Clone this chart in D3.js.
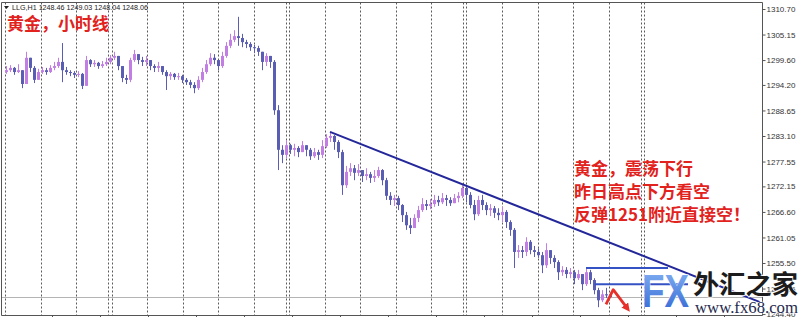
<!DOCTYPE html>
<html><head><meta charset="utf-8">
<script src="https://cdn.jsdelivr.net/npm/d3@7"></script>
<style>html,body{margin:0;padding:0;background:#fff;overflow:hidden}svg{display:block}</style>
</head><body>
<svg id="c" width="800" height="317"></svg>
<script>
// ---------- data ----------
const symbol = "LLG,H1";
const firstOpen = 1297.0;
const closes = [1297.4,1297.9,1297.0,1297.4,1294.4,1300.1,1297.9,1295.3,1297.0,1297.4,
1297.0,1297.9,1298.3,1299.2,1297.4,1297.0,1296.8,1296.4,1296.6,1294.0,
1299.6,1298.7,1299.0,1298.3,1298.7,1299.2,1300.1,1300.5,1298.3,1295.7,
1295.3,1299.6,1300.9,1299.6,1299.2,1299.6,1298.3,1297.9,1298.3,1297.0,
1296.1,1296.6,1295.9,1296.1,1295.3,1294.8,1294.2,1293.5,1295.3,1297.0,
1298.7,1300.1,1299.6,1298.3,1300.5,1302.7,1304.0,1304.8,1304.4,1303.5,
1303.1,1302.4,1302.2,1301.4,1299.2,1300.5,1299.2,1288.7,1280.1,1279.0,
1281.1,1280.1,1280.5,1279.6,1281.1,1280.1,1278.7,1279.6,1279.0,1280.9,
1282.7,1283.1,1281.8,1279.6,1272.4,1275.3,1276.1,1275.1,1275.7,1274.4,
1274.8,1274.0,1274.4,1275.7,1273.5,1270.1,1269.2,1269.6,1268.1,1265.9,
1263.7,1263.1,1265.3,1267.0,1268.3,1267.9,1268.3,1269.2,1268.7,1269.6,
1269.2,1268.5,1269.6,1270.1,1271.8,1270.3,1268.1,1266.1,1269.2,1268.1,
1267.0,1267.4,1266.4,1265.9,1266.6,1264.4,1262.7,1257.9,1258.3,1257.9,
1260.1,1258.3,1257.9,1257.2,1255.0,1258.3,1256.6,1255.7,1253.5,1254.0,
1253.1,1253.5,1252.2,1253.1,1250.9,1253.5,1251.8,1249.6,1247.4,1248.7,
1248.46,1248.06];
const highs = [1298.3,1298.5,1298.1,1298.7,1297.4,1301.4,1300.1,1298.3,1297.7,1298.1,
1297.9,1298.5,1299.2,1300.1,1303.3,1298.1,1297.4,1297.2,1297.2,1296.8,
1300.5,1299.8,1299.6,1299.2,1299.4,1300.1,1300.7,1301.4,1300.5,1298.3,
1296.4,1300.1,1301.8,1300.9,1300.3,1300.5,1299.6,1298.7,1299.2,1298.3,
1297.4,1297.0,1296.8,1296.8,1296.4,1295.7,1295.3,1294.8,1296.1,1297.9,
1299.6,1301.1,1300.9,1299.6,1301.4,1303.5,1305.3,1306.1,1309.0,1305.3,
1304.0,1303.5,1302.9,1302.7,1301.4,1301.1,1300.3,1299.6,1289.8,1281.1,
1282.2,1281.4,1281.4,1280.9,1282.0,1281.1,1280.5,1280.5,1280.1,1282.2,
1283.5,1284.0,1283.3,1282.2,1280.1,1276.6,1277.2,1276.8,1277.0,1275.7,
1276.1,1275.3,1275.7,1276.4,1275.9,1274.0,1270.9,1270.3,1270.1,1268.3,
1266.6,1265.3,1266.1,1267.9,1269.6,1269.2,1269.4,1270.3,1270.1,1270.7,
1270.3,1269.8,1270.5,1270.9,1272.4,1272.0,1270.9,1269.2,1270.1,1270.3,
1268.7,1268.3,1267.9,1267.4,1267.7,1267.0,1264.8,1263.1,1259.4,1259.2,
1261.1,1260.5,1259.2,1258.7,1257.9,1259.8,1258.3,1257.2,1256.1,1254.8,
1254.6,1254.4,1254.0,1254.0,1253.1,1254.4,1254.0,1252.2,1250.1,1249.6,
1250.1,1249.03];
const lows = [1296.6,1297.0,1296.4,1296.8,1293.5,1294.4,1297.0,1294.6,1295.3,1296.6,
1296.4,1296.8,1297.4,1297.9,1294.8,1296.4,1296.1,1295.7,1295.9,1293.3,
1294.0,1298.1,1298.1,1297.7,1297.9,1298.3,1298.7,1299.6,1297.4,1294.8,
1294.4,1294.8,1299.2,1298.7,1298.3,1298.3,1297.4,1297.0,1297.0,1296.4,
1293.1,1295.3,1295.3,1295.3,1294.6,1294.2,1293.5,1292.4,1293.1,1294.8,
1296.6,1298.3,1298.7,1297.4,1297.9,1300.1,1302.2,1303.5,1302.7,1302.4,
1302.2,1301.6,1301.1,1300.5,1297.4,1298.3,1297.9,1287.7,1275.7,1277.2,
1278.3,1279.2,1278.7,1278.5,1279.6,1278.7,1277.9,1278.3,1277.9,1278.3,
1280.5,1281.8,1280.1,1278.3,1270.3,1271.8,1274.4,1273.5,1274.4,1273.1,
1273.5,1272.9,1273.1,1274.0,1272.4,1269.2,1268.1,1267.9,1267.0,1264.4,
1262.7,1261.8,1263.5,1264.4,1266.6,1267.0,1267.2,1267.7,1267.9,1268.3,
1267.9,1267.9,1268.5,1268.7,1269.6,1268.7,1267.4,1264.8,1265.7,1267.0,
1265.9,1265.7,1265.3,1264.8,1264.4,1263.1,1261.4,1254.4,1256.6,1256.6,
1257.0,1257.4,1256.8,1256.6,1253.3,1254.4,1255.3,1254.4,1251.8,1252.7,
1252.2,1252.2,1250.9,1251.8,1249.6,1250.5,1250.9,1248.7,1245.9,1247.0,
1247.9,1248.04];
const priceTicks = ["1310.70","1305.15","1299.60","1294.20","1288.65","1283.10","1277.55","1272.15","1266.60","1261.05","1255.50","1249.95","1244.40"];
const trendLine = [{i:81, p:1284.0}, {i:188.5, p:1247.0}];
const levelLines = [{from:145, to:165.5, p:1254.4}, {from:147.2, to:170.5, p:1250.9}];
const arrowPts = [{i:150, p:1246.5}, {i:151.8, p:1249.7}, {i:155.2, p:1245.8}];
const separators = [25.5, 70, 114.25, 158.75];
const titleText = "黄金，小时线";
const noteLines = ["黄金，震荡下行", "昨日高点下方看空", "反弹1251附近直接空！"];

// ---------- chart ----------
const svg = d3.select("#c");
svg.append("rect").attr("width",800).attr("height",317).attr("fill","#fff");
const P = {l:1.5, r:762.5, t:2.5, b:315.5};
const x = d3.scaleLinear().domain([0, closes.length-1]).range([6, 610]);
const y = d3.scaleLinear().domain([1255.50, 1310.70]).range([263, 9]);

const candles = closes.map((c,i)=>{
  const o = i ? closes[i-1] : firstOpen;
  return {i, o, c, h: Math.max(highs[i], o, c), l: Math.min(lows[i], o, c)};
});

// vertical grid (time grid)
const gridIdx = d3.range(19).map(k => -0.25 + k*8.875);
const g = svg.append("g");
g.selectAll("line.grid").data(gridIdx).join("line")
  .attr("x1", d=>Math.round(x(d))+0.5).attr("x2", d=>Math.round(x(d))+0.5)
  .attr("y1", P.t).attr("y2", P.b)
  .attr("stroke","#5a5a5a").attr("stroke-width",1).attr("stroke-dasharray","2,2");
g.selectAll("line.sep").data(separators).join("line")
  .attr("x1", d=>Math.round(x(d))+0.5).attr("x2", d=>Math.round(x(d))+0.5)
  .attr("y1", P.t).attr("y2", P.b)
  .attr("stroke","#5a5a5a").attr("stroke-width",1).attr("stroke-dasharray","2,2");

// bid line
const last = candles[candles.length-1];
svg.append("line").attr("x1",P.l).attr("x2",P.r)
  .attr("y1",Math.round(y(last.c))+0.5).attr("y2",Math.round(y(last.c))+0.5)
  .attr("stroke","#b4b4b4").attr("stroke-width",1);

// candles
const bull = "#c27ee4", bear = "#5a5db4";
const cg = svg.append("g");
cg.selectAll("line").data(candles).join("line")
  .attr("x1", d=>x(d.i)+0.5).attr("x2", d=>x(d.i)+0.5)
  .attr("y1", d=>y(d.h)).attr("y2", d=>y(d.l))
  .attr("stroke", d=>d.c>=d.o?bull:bear).attr("stroke-width",1);
cg.selectAll("rect").data(candles).join("rect")
  .attr("x", d=>x(d.i)-1).attr("width", 3)
  .attr("y", d=>y(Math.max(d.o,d.c)))
  .attr("height", d=>Math.max(1, Math.abs(y(d.o)-y(d.c))))
  .attr("fill", d=>d.c>=d.o?bull:bear);

// trend line
svg.append("line")
  .attr("x1", x(trendLine[0].i)).attr("y1", y(trendLine[0].p))
  .attr("x2", x(trendLine[1].i)).attr("y2", y(trendLine[1].p))
  .attr("stroke","#23279a").attr("stroke-width",2);
svg.selectAll("line.lvl").data(levelLines).join("line")
  .attr("x1", d=>x(d.from)).attr("x2", d=>x(d.to))
  .attr("y1", d=>y(d.p)).attr("y2", d=>y(d.p))
  .attr("stroke","#3552c4").attr("stroke-width",2);

// red arrow
const defs = svg.append("defs");
defs.append("marker").attr("id","ah").attr("viewBox","0 0 10 10")
  .attr("refX",4).attr("refY",5).attr("markerWidth",3).attr("markerHeight",3)
  .attr("orient","auto").append("path").attr("d","M0,0L10,5L0,10z").attr("fill","#e8302a");
svg.append("path")
  .attr("d", d3.line().x(d=>x(d.i)).y(d=>y(d.p))(arrowPts))
  .attr("fill","none").attr("stroke","#e8302a").attr("stroke-width",2.8)
  .attr("stroke-linejoin","round")
  .attr("marker-end","url(#ah)");

// borders
svg.append("path")
  .attr("d", `M${P.l},${P.b}V${P.t}H${P.r}V${P.b}H${P.l}`)
  .attr("fill","none").attr("stroke","#555").attr("stroke-width",1);
// bottom time ticks
const timeTicks = d3.range(11.5, 190, 12);
svg.selectAll("line.tt").data(timeTicks.filter(d=>x(d)<P.r)).join("line")
  .attr("x1", d=>Math.round(x(d))+0.5).attr("x2", d=>Math.round(x(d))+0.5)
  .attr("y1", P.b).attr("y2", P.b+3).attr("stroke","#555");

// right axis
const ax = svg.append("g").attr("transform",`translate(${P.r},0)`)
  .call(d3.axisRight(y).tickValues(priceTicks.map(Number))
    .tickFormat((d,i)=>priceTicks[i]).tickSize(3).tickPadding(1));
ax.select(".domain").remove();
ax.selectAll("line").attr("stroke","#555");
ax.selectAll("text").attr("font-family","'Liberation Sans', Arial, sans-serif")
  .attr("font-size","8px").attr("fill","#333");

// header
const hdr = svg.append("g").attr("font-family","'Liberation Sans', Arial, sans-serif").attr("fill","#222");
hdr.append("path").attr("d","M4,6H9L6.5,9z").attr("fill","#222");
hdr.append("text").attr("x",12).attr("y",10).attr("font-size","7px")
  .attr("textLength",136).attr("lengthAdjust","spacingAndGlyphs")
  .text(`${symbol}  ${last.o.toFixed(2)} ${last.h.toFixed(2)} ${last.l.toFixed(2)} ${last.c.toFixed(2)}`);

// red annotations
const cjk = "'Noto Sans CJK SC','Noto Sans CJK TC',sans-serif";
svg.append("text").attr("x",7).attr("y",30).attr("font-family",cjk).attr("font-weight",700)
  .attr("font-size","17px").attr("fill","#e2221c").text(titleText);
svg.append("g").selectAll("text").data(noteLines).join("text")
  .attr("x",574).attr("y",(d,i)=>175+i*23).attr("font-family",cjk).attr("font-weight",700)
  .attr("font-size","17px").attr("fill","#e2221c").text(d=>d);

// logo
const grad = defs.append("linearGradient").attr("id","fxg").attr("x1",0).attr("y1",0).attr("x2",0).attr("y2",1);
grad.append("stop").attr("offset","0").attr("stop-color","#8cb8f6");
grad.append("stop").attr("offset","1").attr("stop-color","#2c62d2");
svg.append("text").attr("x",642).attr("y",307).attr("font-family","'Liberation Sans', Arial, sans-serif")
  .attr("font-weight",700).attr("font-size","47px").attr("textLength",47).attr("lengthAdjust","spacingAndGlyphs")
  .attr("fill","url(#fxg)").attr("stroke","#fff").attr("stroke-width",1).attr("paint-order","stroke").text("FX");
svg.append("text").attr("x",693).attr("y",294).attr("font-family",cjk)
  .attr("font-weight",700).attr("font-size","26px").attr("textLength",105).attr("lengthAdjust","spacingAndGlyphs")
  .attr("fill","#1c1c1c").attr("stroke","#fff").attr("stroke-width",1.5).attr("paint-order","stroke").text("外汇之家");
svg.append("text").attr("x",695).attr("y",313).attr("font-family","'Liberation Serif', 'Times New Roman', serif")
  .attr("font-size","16px").attr("textLength",103).attr("lengthAdjust","spacingAndGlyphs")
  .attr("fill","#1f2a4e").attr("stroke","#fff").attr("stroke-width",1.2).attr("paint-order","stroke").text("www.fx68.com");
</script>
</body></html>
